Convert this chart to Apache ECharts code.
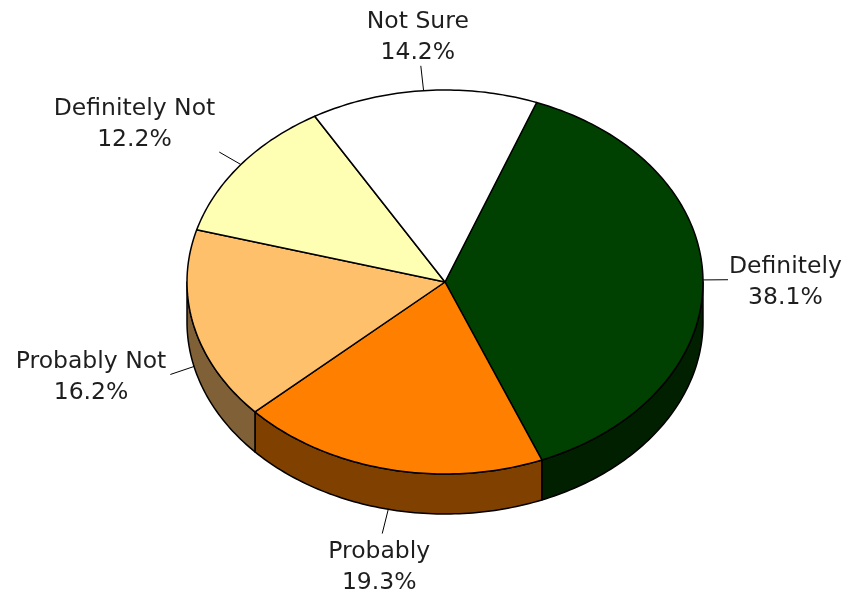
<!DOCTYPE html>
<html>
<head>
<meta charset="utf-8">
<script src="https://cdn.jsdelivr.net/npm/echarts@6/dist/echarts.min.js"></script>
<style>html,body{margin:0;padding:0;background:#fff}#chart{width:842px;height:594px}</style>
</head>
<body>
<div id="chart"></div>
<script>
// Data (clockwise from the slice that starts near the top right)
const categories = ['Definitely', 'Probably', 'Probably Not', 'Definitely Not', 'Not Sure'];
const values = [38.1, 19.3, 16.2, 12.2, 14.2];
const percentLabels = ['38.1%', '19.3%', '16.2%', '12.2%', '14.2%'];

// Styles
const topColors = ['#004000', '#FF8000', '#FFC06C', '#FFFFB3', '#FFFFFF'];
const sideColors = ['#002000', '#804000', '#806036', '#808059', '#808080'];
const FONT_FAMILY = '"DejaVu Sans", Verdana, sans-serif';
const FONT_SIZE = 23.5;

// Geometry of the tilted pie
const geo = { cx: 445, cy: 282, rx: 258, ry: 192, depth: 40, startAngle: 20.8, lead: 25 };

const total = values.reduce((a, b) => a + b, 0);
const cum = [];
values.reduce((acc, v, i) => { cum[i] = acc; return acc + v; }, 0);

function pt(theta, dy) {
  const r = theta * Math.PI / 180;
  return [geo.cx + geo.rx * Math.sin(r), geo.cy - geo.ry * Math.cos(r) + (dy || 0)];
}
function arc(a0, a1, dy) {
  const pts = [];
  const n = Math.max(2, Math.ceil(Math.abs(a1 - a0)));
  for (let k = 0; k <= n; k++) pts.push(pt(a0 + (a1 - a0) * k / n, dy));
  return pts;
}
const measureCtx = document.createElement('canvas').getContext('2d');
function textWidth(s) {
  measureCtx.font = FONT_SIZE + 'px ' + FONT_FAMILY;
  return measureCtx.measureText(s).width;
}

const chart = echarts.init(document.getElementById('chart'), null, { renderer: 'canvas' });
chart.setOption({
  animation: false,
  backgroundColor: '#ffffff',
  series: [{
    type: 'custom',
    coordinateSystem: 'none',
    data: values.map((v, i) => [i, v]),
    renderItem: function (params, api) {
      const i = params.dataIndex;
      const v = api.value(1);
      const a0 = geo.startAngle + 360 * cum[i] / total;
      const a1 = a0 + 360 * v / total;
      const children = [];
      // side wall (front half only)
      const s0 = Math.max(a0, 90), s1 = Math.min(a1, 270);
      if (s1 > s0) {
        const sidePts = arc(s0, s1, 0).concat(arc(s1, s0, geo.depth));
        children.push({
          type: 'polygon', z2: 0,
          shape: { points: sidePts },
          style: { fill: sideColors[i], stroke: '#000', lineWidth: 1.5, lineJoin: 'round' }
        });
      }
      // top face
      const topPts = [[geo.cx, geo.cy]].concat(arc(a0, a1, 0));
      children.push({
        type: 'polygon', z2: 10,
        shape: { points: topPts },
        style: { fill: topColors[i], stroke: '#000', lineWidth: 1.5, lineJoin: 'round' }
      });
      // leader line + label
      const mid = (a0 + a1) / 2;
      const m = ((mid % 360) + 360) % 360;
      const front = m > 90 && m < 270;
      const anchor = pt(mid, front ? geo.depth : 0);
      let dx = anchor[0] - geo.cx, dy = anchor[1] - geo.cy;
      const len = Math.sqrt(dx * dx + dy * dy);
      dx /= len; dy /= len;
      const end = [anchor[0] + dx * geo.lead, anchor[1] + dy * geo.lead];
      children.push({
        type: 'line', z2: 20,
        shape: { x1: anchor[0], y1: anchor[1], x2: end[0], y2: end[1] },
        style: { stroke: '#000', lineWidth: 1 }
      });
      const align = dx > 0.4 ? 'left' : (dx < -0.4 ? 'right' : 'center');
      const valign = dy > 0.4 ? 'top' : (dy < -0.4 ? 'bottom' : 'middle');
      const w = Math.max(textWidth(categories[i]), textWidth(percentLabels[i]));
      let x = end[0];
      if (align === 'left') x += 1 + w / 2;
      else if (align === 'right') x -= 4 + w / 2;
      else x -= 3;
      children.push({
        type: 'text', z2: 20,
        x: x,
        y: end[1] + 3,
        style: {
          text: categories[i] + '\n' + percentLabels[i],
          fill: '#1e1e1e',
          fontFamily: FONT_FAMILY,
          fontSize: FONT_SIZE,
          lineHeight: 31,
          align: 'center',
          verticalAlign: valign
        }
      });
      return { type: 'group', children: children };
    }
  }]
});
</script>
</body>
</html>
